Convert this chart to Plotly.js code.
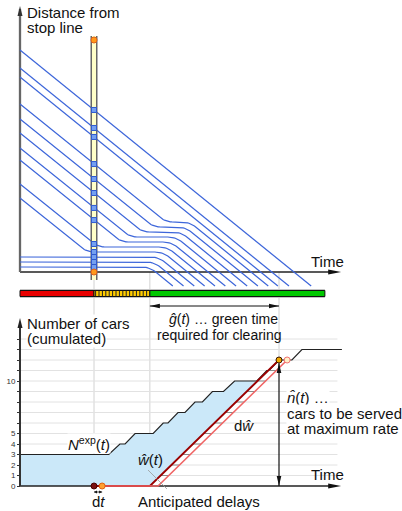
<!DOCTYPE html>
<html>
<head>
<meta charset="utf-8">
<script src="https://cdn.plot.ly/plotly-3.0.1.min.js"></script>
<style>
  html, body { margin: 0; padding: 0; background: #fff; }
  #chart { width: 402px; height: 511px; }
</style>
</head>
<body>
<div id="chart"></div>
<script>
// ---------------- data ----------------
// Vehicle trajectories: time in s, distance to the stop line in m.
const carEntry     = [10, 20, 30, 148, 176, 224, 248, 278, 306, 336, 390, 408, 444]; // distance at t = 0
const carQueuePos  = [10, 20, 30, 40, 50, 60, 70, 80, 90, 100, null, null, null];     // standing position in queue
const carStopFrom  = [0, 0, 0, 18.0, 21.0, 27.3, 29.7, 33.0, 36.0, 39.3, null, null, null];
const carStopUntil = [35.0, 36.2, 37.4, 38.6, 39.7, 40.8, 42.1, 43.4, 44.6, 45.8, null, null, null];
const carExitTime  = [41.3, 44.2, 47.1, 49.9, 52.7, 55.5, 58.4, 61.4, 64.3, 67.1, 69.7, 72.7, 78.7];
const exitDistance = -28;

// Signal timing
const tNow   = 20;     // current time t
const tGreen = 35.1;   // start of green
const tClear = 70;     // queue cleared
const nClear = 12;     // cars to be served at maximum rate
const dt     = 2.2;    // time step dt
const detectorRange = [0, 464];
const signalBounds = [0, tNow, tGreen, 82.4];
const signalColors = ['#e80000', '#ffcc00', '#00c800'];

// Expected cumulated arrivals N^exp(t)
const nExpTime  = [0, 24.0, 27.0, 28.4, 31.1, 36.0, 38.7, 40.0, 42.7, 44.6, 47.3, 49.3, 52.0, 55.0, 58.0, 64.0, 66.7, 67.3, 70.0, 73.5, 76.2, 87.0];
const nExpCount = [3, 3, 4, 4, 5, 5, 6, 6, 7, 7, 8, 8, 9, 9, 10, 10, 11, 11, 12, 12, 13, 13];

// Count axis ticks
const countTicks  = [0, 1, 2, 3, 4, 5, 6, 7, 8, 9, 10, 11, 12, 13, 14];
const countLabelTicks = [0, 1, 2, 3, 4, 5, 10];

// ---------------- geometry ----------------
const W = 402, H = 511;
const FONT = 'Liberation Sans, Arial, sans-serif';
const X_RANGE = [-20 / 3.7, 382 / 3.7];
const TOP_DOMAIN = [1 - 288 / H, 1], TOP_RANGE = [-32, 544];
const BOT_DOMAIN = [0, 1 - 300 / H], BOT_RANGE = [-25 / 10.5, 186 / 10.5];
const X_END = 86.8;

const pxX = t => (t - X_RANGE[0]) / (X_RANGE[1] - X_RANGE[0]) * W;
const tOfPx = px => X_RANGE[0] + px / W * (X_RANGE[1] - X_RANGE[0]);
function pxY(v, dom, rng) {
  const f = dom[0] + (v - rng[0]) / (rng[1] - rng[0]) * (dom[1] - dom[0]);
  return H * (1 - f);
}
function vOfPy(py, dom, rng) {
  const f = 1 - py / H;
  return rng[0] + (f - dom[0]) / (dom[1] - dom[0]) * (rng[1] - rng[0]);
}
const pxTop = d => pxY(d, TOP_DOMAIN, TOP_RANGE);
const pxBot = n => pxY(n, BOT_DOMAIN, BOT_RANGE);
const PX = px => px / W, PY = py => 1 - py / H;

function carVertices(i) {
  const ts = [0], ds = [carEntry[i]];
  if (carQueuePos[i] !== null) {
    if (carStopFrom[i] > 0) { ts.push(carStopFrom[i]); ds.push(carQueuePos[i]); }
    ts.push(carStopUntil[i]); ds.push(carQueuePos[i]);
  }
  ts.push(carExitTime[i]); ds.push(exitDistance);
  return { ts, ds };
}
function valueAt(ts, ds, t) {
  for (let k = 0; k < ts.length - 1; k++) {
    if (t >= ts[k] && t <= ts[k + 1]) return ds[k] + (ds[k + 1] - ds[k]) * (t - ts[k]) / (ts[k + 1] - ts[k]);
  }
  return null;
}
// polyline with rounded corners (radius in screen pixels)
function rounded(ts, ds, r) {
  const P = ts.map((t, k) => [pxX(t), pxTop(ds[k])]);
  const out = [P[0]];
  for (let k = 1; k < P.length - 1; k++) {
    const V = P[k], A = P[k - 1], B = P[k + 1];
    const la = Math.hypot(A[0] - V[0], A[1] - V[1]), lb = Math.hypot(B[0] - V[0], B[1] - V[1]);
    const ra = Math.min(r, la / 2), rb = Math.min(r, lb / 2);
    const P1 = [V[0] + (A[0] - V[0]) * ra / la, V[1] + (A[1] - V[1]) * ra / la];
    const P2 = [V[0] + (B[0] - V[0]) * rb / lb, V[1] + (B[1] - V[1]) * rb / lb];
    for (let s = 0; s <= 10; s++) {
      const u = s / 10;
      out.push([(1 - u) * (1 - u) * P1[0] + 2 * (1 - u) * u * V[0] + u * u * P2[0],
                (1 - u) * (1 - u) * P1[1] + 2 * (1 - u) * u * V[1] + u * u * P2[1]]);
    }
  }
  out.push(P[P.length - 1]);
  return { x: out.map(p => tOfPx(p[0])), y: out.map(p => vOfPy(p[1], TOP_DOMAIN, TOP_RANGE)) };
}
function arrowHead(tx, ty, dir, len, half, color) {
  let pts;
  if (dir === 'right') pts = [[tx, ty], [tx - len, ty - half], [tx - len, ty + half]];
  if (dir === 'left')  pts = [[tx, ty], [tx + len, ty - half], [tx + len, ty + half]];
  if (dir === 'up')    pts = [[tx, ty], [tx - half, ty + len], [tx + half, ty + len]];
  if (dir === 'down')  pts = [[tx, ty], [tx - half, ty - len], [tx + half, ty - len]];
  return { type: 'path', xref: 'paper', yref: 'paper', layer: 'above',
           path: 'M' + pts.map(p => PX(p[0]).toFixed(5) + ',' + PY(p[1]).toFixed(5)).join('L') + 'Z',
           fillcolor: color, line: { width: 0 } };
}

// ---------------- traces: trajectories ----------------
const traces = [];
traces.push({ x: [0, X_END - 2], y: [0, 0], xaxis: 'x', yaxis: 'y', mode: 'lines',
              line: { color: '#222', width: 1.3 }, hoverinfo: 'skip' });
traces.push({ x: [0, 0], y: [0, 526], xaxis: 'x', yaxis: 'y', mode: 'lines',
              line: { color: '#666', width: 2.3 }, hoverinfo: 'skip' });

const trajX = [], trajY = [], markX = [], markY = [];
carEntry.forEach((_, i) => {
  const v = carVertices(i);
  const r = rounded(v.ts, v.ds, 8);
  trajX.push(...r.x, null); trajY.push(...r.y, null);
  markX.push(tNow); markY.push(valueAt(v.ts, v.ds, tNow));
});
traces.push({ x: trajX, y: trajY, xaxis: 'x', yaxis: 'y', mode: 'lines',
              line: { color: '#3d66da', width: 1.2 }, connectgaps: false, hoverinfo: 'skip' });

// time bar at t
const barSpan = [detectorRange[1] + 8, -16];
traces.push({ x: [tNow, tNow], y: barSpan, xaxis: 'x', yaxis: 'y', mode: 'lines',
              line: { color: '#666', width: 7 }, hoverinfo: 'skip' });
traces.push({ x: [tNow, tNow], y: barSpan, xaxis: 'x', yaxis: 'y', mode: 'lines',
              line: { color: '#ffffc8', width: 4 }, hoverinfo: 'skip' });
traces.push({ x: markX, y: markY, xaxis: 'x', yaxis: 'y', mode: 'markers',
              marker: { symbol: 'square', size: 5, color: '#74a0f0', line: { color: '#2e59d0', width: 1 } }, hoverinfo: 'skip' });
traces.push({ x: [tNow, tNow], y: detectorRange, xaxis: 'x', yaxis: 'y', mode: 'markers',
              marker: { symbol: 'circle', size: 6, color: '#ff9a1a', line: { color: '#e0601a', width: 1 } }, hoverinfo: 'skip' });

// ---------------- traces: cumulated counts ----------------
const hSat = (tClear - tGreen) / nClear;
const fillX = [], fillY = [];
nExpTime.forEach((t, k) => { if (t < tClear) { fillX.push(t); fillY.push(nExpCount[k]); } });
fillX.push(tClear, tGreen, 0); fillY.push(nClear, 0, 0);
traces.push({ x: fillX, y: fillY, xaxis: 'x', yaxis: 'y3', mode: 'lines', fill: 'toself',
              fillcolor: '#cbe8f9', line: { width: 0 }, hoverinfo: 'skip' });
traces.push({ x: nExpTime, y: nExpCount, xaxis: 'x', yaxis: 'y3', mode: 'lines',
              line: { color: '#222', width: 1.2 }, hoverinfo: 'skip' });
traces.push({ x: [0, X_END - 2], y: [0, 0], xaxis: 'x', yaxis: 'y3', mode: 'lines',
              line: { color: '#222', width: 1.5 }, hoverinfo: 'skip' });
traces.push({ x: [0, 0], y: [0, 15.4], xaxis: 'x', yaxis: 'y3', mode: 'lines',
              line: { color: '#333', width: 2 }, hoverinfo: 'skip' });

const hatchX = [], hatchY = [];
for (let n = 1; n < nClear; n++) {
  hatchX.push(tGreen + n * hSat, tGreen + dt + n * hSat, null);
  hatchY.push(n, n, null);
}
traces.push({ x: hatchX, y: hatchY, xaxis: 'x', yaxis: 'y3', mode: 'lines',
              line: { color: '#8a8a8a', width: 1 }, connectgaps: false, hoverinfo: 'skip' });
traces.push({ x: [tNow, tGreen, tClear], y: [0, 0, nClear], xaxis: 'x', yaxis: 'y3', mode: 'lines',
              line: { color: '#9a0000', width: 1.8 }, hoverinfo: 'skip' });
traces.push({ x: [tNow + dt, tGreen + dt, tClear + dt], y: [0, 0, nClear], xaxis: 'x', yaxis: 'y3', mode: 'lines',
              line: { color: '#f06464', width: 1.6 }, hoverinfo: 'skip' });
traces.push({ x: [tNow, tNow + dt, tClear, tClear + dt], y: [0, 0, nClear, nClear], xaxis: 'x', yaxis: 'y3', mode: 'markers',
              marker: { symbol: 'circle', size: 6,
                        color: ['#7a1010', '#ffa030', '#f0a800', '#fff0c8'],
                        line: { color: ['#4a0000', '#e06010', '#3a1500', '#f07070'], width: 1 } }, hoverinfo: 'skip' });

// ---------------- shapes ----------------
const shapes = [];
// guide lines
shapes.push({ type: 'line', xref: 'x', yref: 'paper', x0: tNow, x1: tNow, y0: PY(280), y1: PY(pxBot(0)),
              line: { color: '#d2d2d2', width: 1 }, layer: 'below' });
shapes.push({ type: 'line', xref: 'x', yref: 'paper', x0: tGreen, x1: tGreen, y0: PY(pxTop(0)), y1: PY(pxBot(0)),
              line: { color: '#d2d2d2', width: 1 }, layer: 'below' });
shapes.push({ type: 'line', xref: 'x', yref: 'paper', x0: tClear, x1: tClear, y0: PY(pxTop(0)), y1: PY(pxBot(nClear)),
              line: { color: '#d2d2d2', width: 1 }, layer: 'below' });
// grid of counts
countTicks.slice(1).forEach(n => shapes.push({ type: 'line', xref: 'x', yref: 'y3', x0: 0, x1: X_END - 1, y0: n, y1: n,
              line: { color: '#e2e2e2', width: 1 }, layer: 'below' }));
// signal bar
shapes.push({ type: 'rect', xref: 'x', yref: 'paper', x0: signalBounds[0], x1: signalBounds[3], y0: PY(298), y1: PY(289),
              fillcolor: '#c4c4c4', line: { width: 0 }, layer: 'below' });
for (let k = 0; k < 3; k++) {
  shapes.push({ type: 'rect', xref: 'x', yref: 'paper', x0: signalBounds[k], x1: signalBounds[k + 1], y0: PY(296.5), y1: PY(290.5),
                fillcolor: signalColors[k], line: { color: '#111', width: 1 }, layer: 'below' });
}
shapes.push({ type: 'line', xref: 'x', yref: 'paper', x0: signalBounds[1] + 0.3, x1: signalBounds[2], y0: PY(293.5), y1: PY(293.5),
              line: { color: '#222', width: 6, dash: '1px,2.4px' }, layer: 'below' });
// green time arrow
const gY = 306;
shapes.push({ type: 'line', xref: 'x', yref: 'paper', x0: tGreen, x1: tClear, y0: PY(gY), y1: PY(gY),
              line: { color: '#111', width: 1 }, layer: 'above' });
shapes.push(arrowHead(pxX(tGreen), gY, 'left', 10, 2.3, '#111'));
shapes.push(arrowHead(pxX(tClear), gY, 'right', 10, 2.3, '#111'));
// cars to be served arrow
shapes.push({ type: 'line', xref: 'x', yref: 'y3', x0: tClear, x1: tClear, y0: 0, y1: nClear - 0.3,
              line: { color: '#111', width: 1.2 }, layer: 'above' });
shapes.push(arrowHead(pxX(tClear), pxBot(nClear) + 3, 'up', 10, 2.3, '#111'));
shapes.push(arrowHead(pxX(tClear), pxBot(0), 'down', 10, 2.3, '#111'));
// dt arrow
const dtY = pxBot(0) + 6;
shapes.push({ type: 'line', xref: 'x', yref: 'paper', x0: tNow, x1: tNow + dt, y0: PY(dtY), y1: PY(dtY),
              line: { color: '#111', width: 0.8 }, layer: 'above' });
shapes.push(arrowHead(pxX(tNow), dtY, 'left', 3, 1.5, '#111'));
shapes.push(arrowHead(pxX(tNow + dt), dtY, 'right', 3, 1.5, '#111'));
// leader of the delay label
shapes.push({ type: 'line', xref: 'paper', yref: 'paper', x0: PX(148), x1: PX(167), y0: PY(470), y1: PY(489),
              line: { color: '#999', width: 0.8 }, layer: 'above' });
// axis arrowheads
shapes.push(arrowHead(pxX(0), pxTop(532), 'up', 10, 2.5, '#333'));
shapes.push(arrowHead(pxX(X_END), pxTop(0), 'right', 13, 2.5, '#111'));
shapes.push(arrowHead(pxX(0), pxBot(16), 'up', 10, 2.5, '#222'));
shapes.push(arrowHead(pxX(X_END), pxBot(0), 'right', 13, 2.5, '#111'));

// ---------------- text ----------------
function label(text, x, y, extra) {
  return Object.assign({ xref: 'paper', yref: 'paper', x: PX(x), y: PY(y), text: text, showarrow: false,
                         xanchor: 'left', yanchor: 'middle', borderpad: 0,
                         font: { family: FONT, size: 15, color: '#111' } }, extra || {});
}
const small = { family: FONT, size: 14, color: '#111' };
const annotations = [
  label('Distance from', 26, 12),
  label('stop line', 26, 27),
  label('Time', 310, 261),
  label('Number of cars', 26, 323, { bgcolor: '#fff' }),
  label('(cumulated)', 26, 338, { bgcolor: '#fff' }),
  label('<i>ĝ</i>(<i>t</i>) … green time', 223, 319, { xanchor: 'center', font: small }),
  label('required for clearing', 220, 335, { xanchor: 'center', font: small }),
  label('<i>n̂</i>(<i>t</i>) …', 286, 397, { bgcolor: '#fff' }),
  label('cars to be served', 286, 413, { bgcolor: '#fff' }),
  label('at maximum rate', 286, 428, { bgcolor: '#fff' }),
  label('d<i>ŵ</i>', 233, 425),
  label('<i>N</i><sup>exp</sup>(<i>t</i>)', 67, 443, { bgcolor: '#fff' }),
  label('<i>ŵ</i>(<i>t</i>)', 137, 459),
  label('Time', 310, 474),
  label('d<i>t</i>', 98, 511, { xanchor: 'center', yanchor: 'bottom' }),
  label('Anticipated delays', 137, 511, { yanchor: 'bottom' })
];

// ---------------- layout ----------------
const layout = {
  width: W, height: H,
  margin: { l: 0, r: 0, t: 0, b: 0 },
  paper_bgcolor: '#fff', plot_bgcolor: 'rgba(0,0,0,0)',
  showlegend: false,
  font: { family: FONT },
  xaxis: { domain: [0, 1], range: X_RANGE, visible: false, fixedrange: true },
  yaxis: { domain: TOP_DOMAIN, range: TOP_RANGE, visible: false, anchor: 'x', fixedrange: true },
  yaxis3: { domain: BOT_DOMAIN, range: BOT_RANGE, anchor: 'free', position: PX(pxX(0)),
            showline: false, showgrid: false, zeroline: false,
            tickmode: 'array', tickvals: countLabelTicks, ticktext: countLabelTicks.map(String),
            ticks: 'outside', ticklen: 3, tickwidth: 1, tickcolor: '#333',
            minor: { tickmode: 'array', tickvals: countTicks, ticks: 'outside', ticklen: 3, tickwidth: 1,
                     tickcolor: '#333', showgrid: false },
            tickfont: { family: FONT, size: 8, color: '#333' }, fixedrange: true },
  shapes: shapes,
  annotations: annotations
};

Plotly.newPlot('chart', traces, layout, { displayModeBar: false, staticPlot: true });
</script>
</body>
</html>
